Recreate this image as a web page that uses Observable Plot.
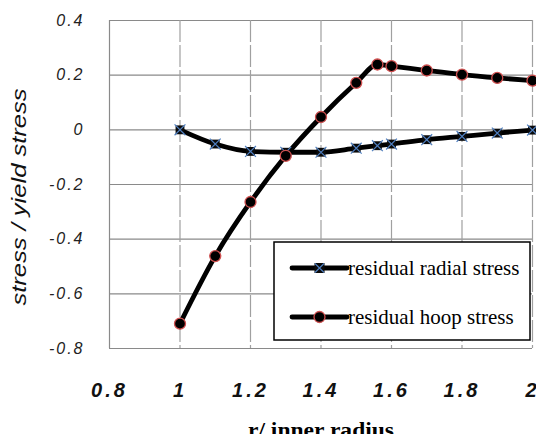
<!DOCTYPE html>
<html><head><meta charset="utf-8">
<script src="https://cdn.jsdelivr.net/npm/d3@7"></script>
<script src="https://cdn.jsdelivr.net/npm/@observablehq/plot@0.6"></script>
<style>body{margin:0;background:#fff;overflow:hidden}</style></head>
<body><div id="chart"></div>
<script>
const r = [1, 1.1, 1.2, 1.3, 1.4, 1.5, 1.56, 1.6, 1.7, 1.8, 1.9, 2.0];
const radial = [0, -0.052, -0.079, -0.082, -0.082, -0.067, -0.058, -0.052, -0.036, -0.024, -0.012, -0.001];
const hoop = [-0.709, -0.462, -0.264, -0.095, 0.047, 0.172, 0.239, 0.233, 0.217, 0.202, 0.19, 0.18];
const xTicks = [0.8, 1, 1.2, 1.4, 1.6, 1.8, 2];
const yTicks = [-0.8, -0.6, -0.4, -0.2, 0, 0.2, 0.4];
const seriesNames = ["residual radial stress", "residual hoop stress"];
const xTitle = "r/ inner radius";
const yTitle = "stress / yield stress";

const radialData = r.map((x, i) => ({x, y: radial[i]}));
const hoopData = r.map((x, i) => ({x, y: hoop[i]}));

const tickFont = "Liberation Sans, Arial, sans-serif";
const chart = Plot.plot({
  width: 536, height: 434,
  marginLeft: 109, marginRight: 4, marginTop: 20, marginBottom: 86,
  x: {domain: [0.8, 2]},
  y: {domain: [-0.8, 0.4]},
  style: {background: "#fff"},
  marks: [
    Plot.ruleY(yTicks, {stroke: "#8a8a8a", strokeWidth: 1.2}),
    Plot.ruleX(xTicks.slice(1), {stroke: "#a0a0a0", strokeWidth: 1.2, strokeDasharray: "22,3"}),
    Plot.ruleX([0.8], {stroke: "#8a8a8a", strokeWidth: 1.2}),
    Plot.line(radialData, {x: "x", y: "y", curve: "monotone-x", stroke: "#000", strokeWidth: 4.8}),
    Plot.line(hoopData, {x: "x", y: "y", curve: "monotone-x", stroke: "#000", strokeWidth: 4.8}),
    Plot.dot(radialData, {x: "x", y: "y", symbol: "square", fill: "#0a0a0a", r: 5}),
    Plot.dot(radialData, {x: "x", y: "y", symbol: "times", stroke: "#4f7fc0", strokeWidth: 1.2, r: 5}),
    Plot.dot(hoopData, {x: "x", y: "y", r: 5.5, fill: "#000", stroke: "#d05050", strokeWidth: 1.3}),
    Plot.axisY(yTicks, {tickSize: 0, tickPadding: 25, tickFormat: d => String(d), label: null,
      fontSize: 16, fontStyle: "italic", fontFamily: tickFont, fill: "#222", className: "ytk"}),
    Plot.axisX(xTicks, {tickSize: 0, tickPadding: 34, tickFormat: d => String(d), label: null,
      fontSize: 20, fontStyle: "italic", fontWeight: "bold", fontFamily: tickFont, fill: "#111", className: "xtk"}),
    Plot.text([xTitle], {frameAnchor: "bottom", dy: 88, text: d => d, fontSize: 20, fontWeight: "bold",
      fontFamily: "Liberation Serif, Times New Roman, serif", fill: "#000", className: "xttl"}),
    Plot.text([yTitle], {frameAnchor: "bottom-left", dx: -90, dy: -43, rotate: -90, text: d => d,
      textAnchor: "start", lineAnchor: "middle", fontSize: 20,
      fontStyle: "italic", fontFamily: "Liberation Sans Narrow, Liberation Sans, sans-serif", fill: "#111", className: "yttl"})
  ]
});
document.getElementById("chart").appendChild(chart);

const svg = d3.select(chart);
svg.selectAll(".ytk text").attr("letter-spacing", "2px");
svg.selectAll(".xtk text").attr("letter-spacing", "3px");
svg.selectAll(".yttl text").attr("textLength", 217).attr("lengthAdjust", "spacingAndGlyphs");
svg.selectAll(".xttl text").attr("textLength", 146).attr("lengthAdjust", "spacingAndGlyphs");

// legend
const lg = svg.append("g").attr("text-anchor", "start");
lg.append("rect").attr("x", 274).attr("y", 242).attr("width", 256).attr("height", 98)
  .attr("fill", "#fff").attr("stroke", "#000").attr("stroke-width", 1.5);
const rows = [268, 317];
seriesNames.forEach((name, i) => {
  const y = rows[i];
  lg.append("line").attr("x1", 292).attr("x2", 347).attr("y1", y).attr("y2", y)
    .attr("stroke", "#000").attr("stroke-width", 4.8).attr("stroke-linecap", "round");
  if (i === 0) {
    lg.append("rect").attr("x", 314.5).attr("y", y - 5).attr("width", 10).attr("height", 10).attr("fill", "#0a0a0a");
    lg.append("path").attr("d", `M${315},${y-4.5}L${324},${y+4.5}M${324},${y-4.5}L${315},${y+4.5}`)
      .attr("stroke", "#4f7fc0").attr("stroke-width", 1.2);
  } else {
    lg.append("circle").attr("cx", 319.5).attr("cy", y).attr("r", 5.5).attr("fill", "#000")
      .attr("stroke", "#d05050").attr("stroke-width", 1.3);
  }
  lg.append("text").attr("x", 348).attr("y", y).attr("dy", "0.32em").attr("text-anchor", "start").text(name)
    .attr("font-family", "Liberation Serif, Times New Roman, serif").attr("font-size", 21).attr("fill", "#000");
});
</script></body></html>
